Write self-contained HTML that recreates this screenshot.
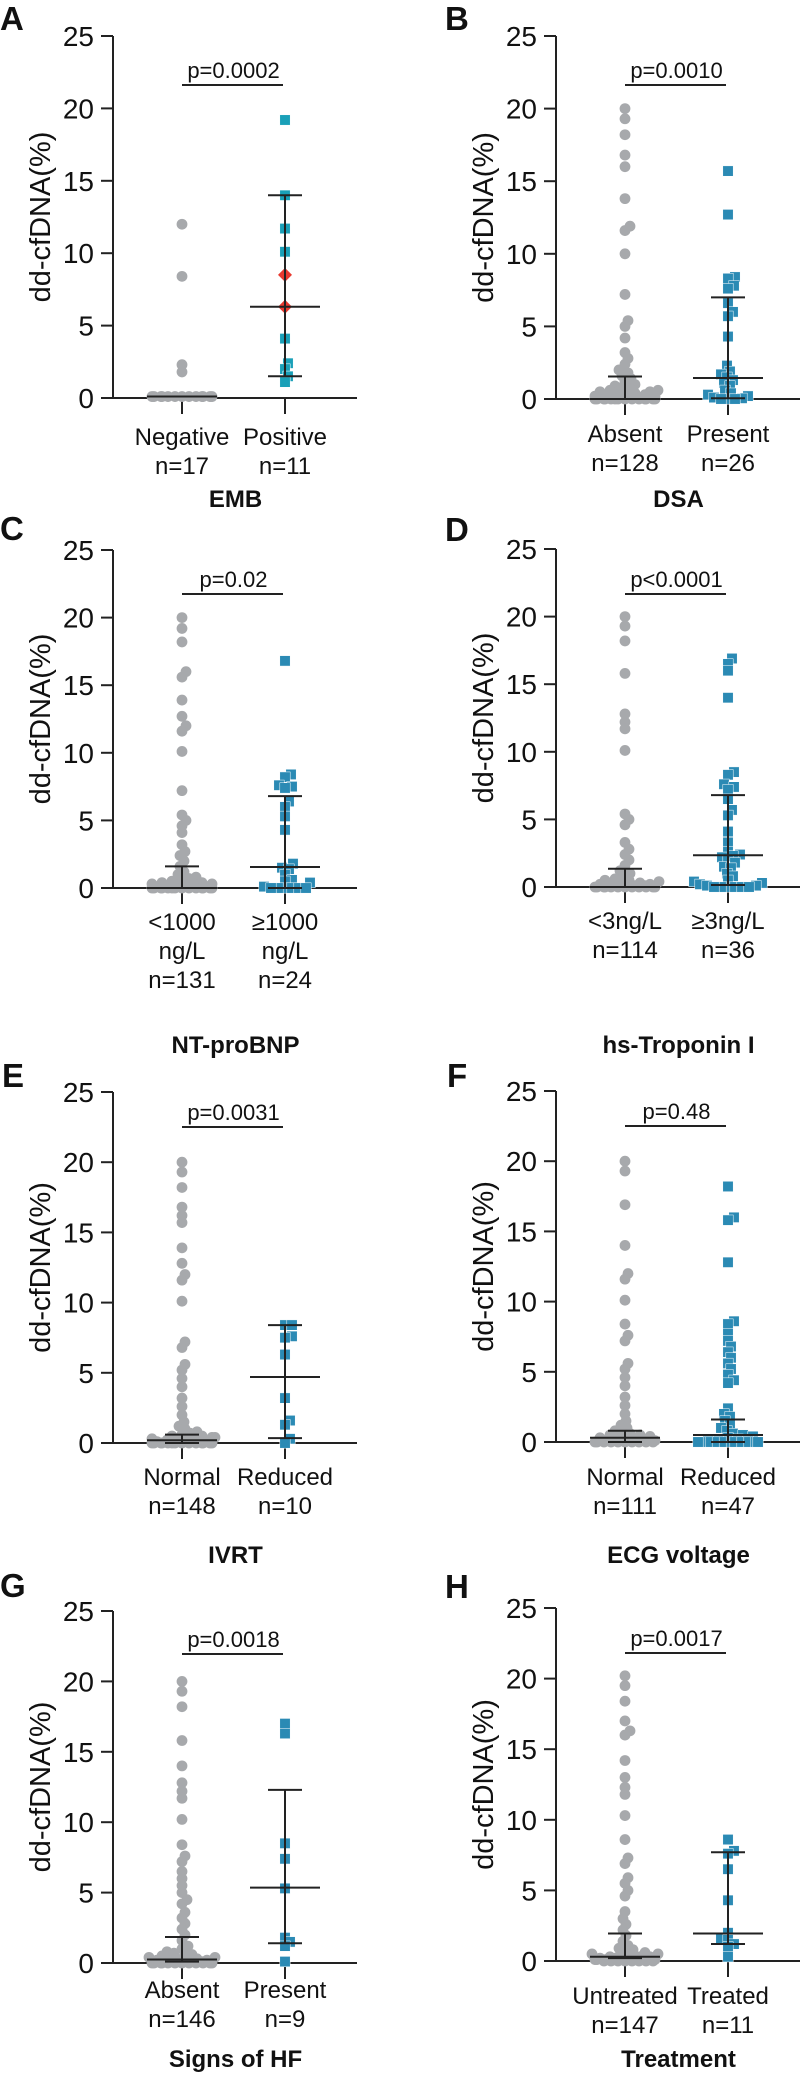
<!DOCTYPE html>
<html><head><meta charset="utf-8"><title>dd-cfDNA panels</title>
<style>
html,body{margin:0;padding:0;background:#fff;}
svg{display:block;font-family:"Liberation Sans",Arial,sans-serif;}
</style></head>
<body>
<svg id="fig" width="800" height="2087" viewBox="0 0 800 2087" xmlns="http://www.w3.org/2000/svg"></svg>
<script>
// ---------- DATA ----------
const yTicks = [0, 5, 10, 15, 20, 25];

const aCats = ["Negative", "Positive"];
const aN = ["n=17", "n=11"];
const aG1 = [12.0, 8.4, 2.3, 1.8, 0.1,0.1,0.1,0.1,0.1,0.1,0.1,0.1,0.1,0.1,0.1,0.1,0.1];
const aG2 = [19.2, 14.0, 11.7, 10.1, 8.5, 6.3, 4.1, 2.4, 2.0, 1.5, 1.1];
const aRed = [8.5, 6.3];
const aMed = [0.1, 6.3];
const aQ1 = [0.1, 1.5];
const aQ3 = [0.1, 14.0];
const aP = "p=0.0002";

const bCats = ["Absent", "Present"];
const bN = ["n=128", "n=26"];
const bG1 = [20.0, 19.3, 18.2, 16.8, 16.0, 13.8, 11.9, 11.6, 10.0, 7.2, 5.4, 5.0, 4.2, 3.2, 2.8, 2.4, 2.0, 1.8, 1.6, 1.4, 1.2, 1.0, 0.9, 0.8, 0.7, 0.6, 0.6, 0.5, 0.5, 0.4, 0.4, 0.3, 0.3, 0.3, 0.2, 0.2, 0.2, 0.2, 0.1, 0.1, 0.1, 0.1, 0.1, 0.1, 0, 0, 0, 0, 0, 0, 0, 0, 0, 0, 0, 0, 0, 0];
const bG2 = [15.7, 12.7, 8.4, 8.3, 7.8, 7.6, 6.6, 6.0, 5.7, 4.3, 2.3, 1.9, 1.7, 1.5, 1.3, 1.1, 0.9, 0.6, 0.4, 0.3, 0.2, 0.1, 0.05, 0, 0, 0];
const bMed = [0.0, 1.45];
const bQ1 = [0.0, 0.05];
const bQ3 = [1.55, 7.0];
const bP = "p=0.0010";

const cCats = [["<1000", "ng/L"], ["≥1000", "ng/L"]];
const cN = ["n=131", "n=24"];
const cG1 = [20.0, 19.2, 18.2, 16.0, 15.6, 13.9, 12.7, 12.0, 11.6, 10.1, 7.2, 5.4, 5.0, 4.6, 4.1, 3.2, 2.7, 2.4, 2.0, 1.6, 1.2, 1.0, 0.8, 0.7, 0.6, 0.5, 0.5, 0.4, 0.4, 0.3, 0.3, 0.2, 0.2, 0.2, 0.1, 0.1, 0.1, 0.1, 0.1, 0, 0, 0, 0, 0, 0, 0, 0, 0, 0, 0, 0, 0, 0];
const cG2 = [16.8, 8.4, 8.2, 7.6, 7.5, 7.4, 6.4, 6.0, 5.3, 4.3, 1.8, 1.5, 1.4, 1.0, 0.6, 0.5, 0.4, 0.1, 0, 0, 0, 0, 0, 0];
const cMed = [0.0, 1.55];
const cQ1 = [0.0, 0.0];
const cQ3 = [1.6, 6.8];
const cP = "p=0.02";

const dCats = ["<3ng/L", "≥3ng/L"];
const dN = ["n=114", "n=36"];
const dG1 = [20.0, 19.3, 18.2, 15.8, 12.8, 12.2, 11.7, 10.1, 5.4, 5.0, 4.6, 3.3, 2.8, 2.4, 2.0, 1.6, 1.2, 1.0, 0.8, 0.6, 0.5, 0.5, 0.4, 0.3, 0.3, 0.2, 0.2, 0.2, 0.1, 0.1, 0.1, 0.1, 0, 0, 0, 0, 0, 0, 0, 0, 0, 0, 0, 0];
const dG2 = [16.9, 16.5, 16.0, 14.0, 8.5, 8.3, 7.6, 7.4, 7.2, 6.5, 5.7, 5.3, 4.1, 3.3, 2.6, 2.4, 2.3, 2.2, 2.0, 1.8, 1.5, 1.4, 1.0, 0.8, 0.5, 0.4, 0.3, 0.2, 0.1, 0.1, 0, 0, 0, 0, 0, 0];
const dMed = [0.0, 2.35];
const dQ1 = [0.0, 0.15];
const dQ3 = [1.35, 6.8];
const dP = "p<0.0001";

const eCats = ["Normal", "Reduced"];
const eN = ["n=148", "n=10"];
const eG1 = [20.0, 19.3, 18.2, 16.8, 16.2, 15.7, 13.9, 12.8, 12.0, 11.6, 10.1, 7.2, 6.8, 5.6, 5.2, 4.6, 4.0, 3.2, 2.6, 2.0, 1.5, 1.2, 1.0, 0.8, 0.7, 0.6, 0.5, 0.5, 0.4, 0.4, 0.3, 0.3, 0.2, 0.2, 0.2, 0.1, 0.1, 0.1, 0.1, 0, 0, 0, 0, 0, 0, 0, 0, 0, 0, 0, 0, 0, 0];
const eG2 = [8.4, 8.4, 7.6, 7.5, 6.3, 3.2, 1.6, 1.3, 0.3, 0.0];
const eMed = [0.2, 4.7];
const eQ1 = [0.0, 0.35];
const eQ3 = [0.6, 8.4];
const eP = "p=0.0031";

const fCats = ["Normal", "Reduced"];
const fN = ["n=111", "n=47"];
const fG1 = [20.0, 19.3, 16.9, 14.0, 12.0, 11.6, 10.1, 8.4, 7.6, 7.2, 5.6, 5.2, 4.6, 4.0, 3.2, 2.6, 2.0, 1.5, 1.2, 1.0, 0.8, 0.7, 0.6, 0.5, 0.5, 0.4, 0.3, 0.3, 0.2, 0.2, 0.1, 0.1, 0.1, 0, 0, 0, 0, 0, 0, 0, 0, 0, 0];
const fG2 = [18.2, 16.0, 15.8, 12.8, 8.6, 8.4, 7.7, 7.2, 6.8, 6.4, 6.0, 5.6, 5.2, 4.8, 4.4, 4.2, 2.4, 2.0, 1.8, 1.5, 1.2, 1.0, 0.8, 0.6, 0.5, 0.4, 0.3, 0.2, 0.2, 0.1, 0.1, 0, 0, 0, 0, 0, 0, 0, 0, 0, 0, 0];
const fMed = [0.3, 0.5];
const fQ1 = [0.0, 0.0];
const fQ3 = [0.8, 1.6];
const fP = "p=0.48";

const gCats = ["Absent", "Present"];
const gN = ["n=146", "n=9"];
const gG1 = [20.0, 19.3, 18.2, 15.8, 14.0, 12.8, 12.2, 11.7, 10.2, 8.4, 7.6, 7.2, 6.5, 6.0, 5.5, 5.0, 4.5, 4.2, 3.6, 3.2, 2.8, 2.4, 2.0, 1.6, 1.2, 1.0, 0.8, 0.7, 0.6, 0.5, 0.5, 0.4, 0.4, 0.3, 0.3, 0.2, 0.2, 0.2, 0.1, 0.1, 0.1, 0.1, 0, 0, 0, 0, 0, 0, 0, 0, 0, 0, 0, 0];
const gG2 = [17.0, 16.3, 8.5, 7.4, 5.3, 1.8, 1.5, 1.2, 0.1];
const gMed = [0.25, 5.35];
const gQ1 = [0.1, 1.4];
const gQ3 = [1.85, 12.3];
const gP = "p=0.0018";

const hCats = ["Untreated", "Treated"];
const hN = ["n=147", "n=11"];
const hG1 = [20.2, 19.5, 18.4, 17.0, 16.3, 16.0, 14.2, 13.0, 12.3, 11.8, 10.3, 8.6, 7.3, 6.9, 5.9, 5.5, 5.0, 4.6, 3.5, 3.0, 2.6, 2.2, 1.8, 1.4, 1.1, 0.9, 0.8, 0.7, 0.6, 0.5, 0.5, 0.4, 0.4, 0.3, 0.3, 0.3, 0.2, 0.2, 0.2, 0.2, 0.1, 0.1, 0.1, 0.1, 0.1, 0, 0, 0, 0, 0, 0, 0, 0];
const hG2 = [8.6, 7.8, 7.6, 6.5, 4.3, 2.0, 1.6, 1.5, 1.2, 1.0, 0.3];
const hMed = [0.3, 1.95];
const hQ1 = [0.2, 1.2];
const hQ3 = [1.95, 7.7];
const hP = "p=0.0017";

// ---------- DRAWING ----------
const NS = "http://www.w3.org/2000/svg";
const svg = document.getElementById("fig");
const GRAY = "#a7a9ac", BLUE = "#2b8ab4", TEAL = "#1aa0b8", RED = "#e8392f", INK = "#222";

function mk(tag, attrs, parent) {
  const el = document.createElementNS(NS, tag);
  for (const k in attrs) el.setAttribute(k, attrs[k]);
  (parent || svg).appendChild(el);
  return el;
}
function txt(s, attrs, parent) {
  const t = mk("text", attrs, parent);
  t.textContent = s;
  return t;
}

function swarm(vals, yScale, cx, r) {
  const placed = [];
  const order = vals.map((v, i) => i).sort((a, b) => vals[a] - vals[b]);
  const res = new Array(vals.length);
  const minD = 2 * r * 0.6, maxW = 34;
  let fb = 0;
  order.forEach(i => {
    const y = yScale(vals[i]);
    let chosen = null;
    for (let k = 0; k <= maxW && chosen === null; k++) {
      for (const dx of (k === 0 ? [0] : [k, -k])) {
        const x = cx + dx;
        let ok = true;
        for (const p of placed) {
          const ddx = p.x - x, ddy = p.y - y;
          if (ddx * ddx + ddy * ddy < minD * minD) { ok = false; break; }
        }
        if (ok) { chosen = x; break; }
      }
    }
    if (chosen === null) {
      const offs = [-30, 30, -20, 20, -10, 10, 0, -25, 25, -15, 15, -5, 5];
      chosen = cx + offs[fb % offs.length];
      fb++;
    }
    placed.push({ x: chosen, y: y });
    res[i] = { x: chosen, y: y };
  });
  return res;
}

function panel(c) {
  const g = mk("g", {});
  
  
  const y = v => c.y0 - (c.y0 - c.y25) * v / 25;
  const gx = [c.ax + 69, c.ax + 172];

  const L = txt(c.letter, { x: c.lx, y: c.ly, "font-size": 33, "font-weight": "bold", fill: "#111" }, g);
  
  

  const ya = mk("line", { x1: c.ax, y1: c.y0, x2: c.ax, y2: c.y25, stroke: INK, "stroke-width": 2 }, g);
  
  
  yTicks.forEach(t => {
    const tk = mk("line", { x1: c.ax - 12, y1: y(t), x2: c.ax, y2: y(t), stroke: INK, "stroke-width": 2 }, g);
    
    
    const tl = txt(String(t), { x: c.ax - 19, y: y(t) + 10, "font-size": 28, "text-anchor": "end", fill: "#111" }, g);
    
    
  });
  const yt = txt("dd-cfDNA(%)", { x: 0, y: 0, "font-size": 29, "text-anchor": "middle", fill: "#111",
    transform: `translate(${c.ax - 63},${(c.y0 + c.y25) / 2}) rotate(-90)` }, g);
  
  

  const xa = mk("line", { x1: c.ax, y1: c.y0, x2: c.xEnd, y2: c.y0, stroke: INK, "stroke-width": 2 }, g);
  
  
  gx.forEach(x => {
    const tk = mk("line", { x1: x, y1: c.y0, x2: x, y2: c.y0 + 16, stroke: INK, "stroke-width": 2 }, g);
    
    
  });

  c.groups.forEach((grp, gi) => {
    const pts = swarm(grp.vals, y, gx[gi], 5.3);
    const redLeft = (grp.red || []).slice();
    pts.forEach((p, i) => {
      const v = grp.vals[i];
      let el;
      const ri = redLeft.indexOf(v);
      if (ri >= 0) {
        redLeft.splice(ri, 1);
        el = mk("polygon", { points: `${p.x},${p.y - 7} ${p.x + 7},${p.y} ${p.x},${p.y + 7} ${p.x - 7},${p.y}`, fill: RED }, g);
        
      } else if (grp.shape === "circle") {
        el = mk("circle", { cx: p.x, cy: p.y, r: 5.4, fill: GRAY }, g);
        
      } else {
        el = mk("rect", { x: p.x - 5.2, y: p.y - 5.2, width: 10.4, height: 10.4, fill: grp.color, stroke: "#fff", "stroke-width": 0.5 }, g);
        
      }
      
    });
  });

  gx.forEach((x, i) => {
    const w = mk("line", { x1: x, y1: y(c.q1[i]), x2: x, y2: y(c.q3[i]), stroke: INK, "stroke-width": 2 }, g);
    
    
    [c.q1[i], c.q3[i]].forEach(q => {
      const cap = mk("line", { x1: x - 17, y1: y(q), x2: x + 17, y2: y(q), stroke: INK, "stroke-width": 2 }, g);
      
      
    });
    const m = mk("line", { x1: x - 35, y1: y(c.med[i]), x2: x + 35, y2: y(c.med[i]), stroke: INK, "stroke-width": 2 }, g);
    
    
  });

  const pb = mk("line", { x1: gx[0], y1: c.pY, x2: gx[1] - 2, y2: c.pY, stroke: INK, "stroke-width": 2 }, g);
  
  
  const pt = txt(c.p, { x: (gx[0] + gx[1]) / 2, y: c.pY - 7, "font-size": 22, "text-anchor": "middle", fill: "#111" }, g);
  
  

  gx.forEach((x, i) => {
    const lines = [].concat(c.cats[i]).concat([c.n[i]]);
    lines.forEach((s, k) => {
      const t = txt(s, { x: x, y: c.lab0 + k * 29, "font-size": 24, "text-anchor": "middle", fill: "#111" }, g);
      
      
    });
  });
  const tt = txt(c.title, { x: (gx[0] + gx[1]) / 2 + 2, y: c.titleY, "font-size": 24, "font-weight": "bold", "text-anchor": "middle", fill: "#111" }, g);
  
  
}

const L_AX = 113, R_AX = 556;
panel({ letter: "A", lx: 0, ly: 30, ax: L_AX, xEnd: L_AX + 244, y25: 36, y0: 398, pY: 85, p: aP, cats: aCats, n: aN, lab0: 445, title: "EMB", titleY: 507,
  groups: [{ vals: aG1, shape: "circle" }, { vals: aG2, shape: "square", color: TEAL, red: aRed }], med: aMed, q1: aQ1, q3: aQ3 });
panel({ letter: "B", lx: 445, ly: 30, ax: R_AX, xEnd: 800, y25: 36, y0: 399, pY: 85, p: bP, cats: bCats, n: bN, lab0: 442, title: "DSA", titleY: 507,
  groups: [{ vals: bG1, shape: "circle" }, { vals: bG2, shape: "square", color: BLUE }], med: bMed, q1: bQ1, q3: bQ3 });
panel({ letter: "C", lx: 0, ly: 540, ax: L_AX, xEnd: L_AX + 244, y25: 550, y0: 888, pY: 594, p: cP, cats: cCats, n: cN, lab0: 930, title: "NT-proBNP", titleY: 1053,
  groups: [{ vals: cG1, shape: "circle" }, { vals: cG2, shape: "square", color: BLUE }], med: cMed, q1: cQ1, q3: cQ3 });
panel({ letter: "D", lx: 445, ly: 541, ax: R_AX, xEnd: 800, y25: 549, y0: 887, pY: 594, p: dP, cats: dCats, n: dN, lab0: 929, title: "hs-Troponin I", titleY: 1053,
  groups: [{ vals: dG1, shape: "circle" }, { vals: dG2, shape: "square", color: BLUE }], med: dMed, q1: dQ1, q3: dQ3 });
panel({ letter: "E", lx: 2, ly: 1087, ax: L_AX, xEnd: L_AX + 244, y25: 1092, y0: 1443, pY: 1127, p: eP, cats: eCats, n: eN, lab0: 1485, title: "IVRT", titleY: 1563,
  groups: [{ vals: eG1, shape: "circle" }, { vals: eG2, shape: "square", color: BLUE }], med: eMed, q1: eQ1, q3: eQ3 });
panel({ letter: "F", lx: 447, ly: 1087, ax: R_AX, xEnd: 800, y25: 1091, y0: 1442, pY: 1126, p: fP, cats: fCats, n: fN, lab0: 1485, title: "ECG voltage", titleY: 1563,
  groups: [{ vals: fG1, shape: "circle" }, { vals: fG2, shape: "square", color: BLUE }], med: fMed, q1: fQ1, q3: fQ3 });
panel({ letter: "G", lx: 0, ly: 1597, ax: L_AX, xEnd: L_AX + 244, y25: 1611, y0: 1963, pY: 1654, p: gP, cats: gCats, n: gN, lab0: 1998, title: "Signs of HF", titleY: 2067,
  groups: [{ vals: gG1, shape: "circle" }, { vals: gG2, shape: "square", color: BLUE }], med: gMed, q1: gQ1, q3: gQ3 });
panel({ letter: "H", lx: 445, ly: 1598, ax: R_AX, xEnd: 800, y25: 1608, y0: 1961, pY: 1653, p: hP, cats: hCats, n: hN, lab0: 2004, title: "Treatment", titleY: 2067,
  groups: [{ vals: hG1, shape: "circle" }, { vals: hG2, shape: "square", color: BLUE }], med: hMed, q1: hQ1, q3: hQ3 });
</script>
</body></html>
